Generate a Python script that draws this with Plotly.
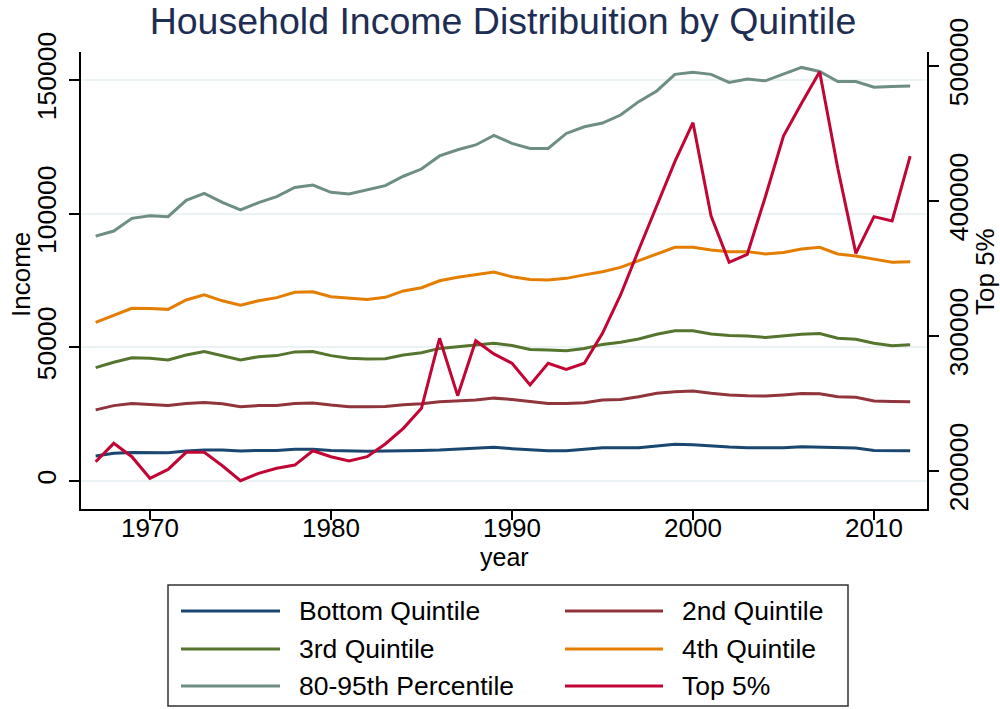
import plotly.graph_objects as go

years = list(range(1967, 2013))

bottom_q = [9350, 10350, 10700, 10600, 10600, 11200, 11600, 11600, 11200, 11450,
            11450, 11850, 11850, 11450, 11200, 11100, 11200, 11450, 11450, 11600,
            11850, 12100, 12600, 12100, 11600, 11350, 11350, 11850, 12470, 12470,
            12470, 13100, 13700, 13600, 13100, 12700, 12470, 12470, 12470, 12850,
            12700, 12470, 12350, 11450, 11350, 11350]
second_q = [26600, 28200, 29000, 28700, 28200, 29000, 29400, 28900, 27800, 28200,
            28200, 29000, 29200, 28400, 27800, 27800, 27900, 28500, 28900, 29600,
            29900, 30300, 31000, 30500, 29700, 29000, 29000, 29300, 30300, 30500,
            31500, 32800, 33400, 33700, 32800, 32200, 31900, 31800, 32200, 32700,
            32600, 31500, 31300, 29900, 29700, 29600]
third_q = [42400, 44400, 46100, 45900, 45300, 47100, 48400, 46800, 45300, 46500,
           46900, 48300, 48400, 46900, 45900, 45600, 45700, 47100, 48000, 49600,
           50200, 50700, 51500, 50700, 49200, 49000, 48700, 49600, 51100, 51900,
           53100, 54900, 56200, 56200, 55000, 54400, 54200, 53700, 54400, 54900,
           55200, 53400, 53000, 51500, 50600, 51000]
fourth_q = [59350, 62100, 64600, 64500, 64200, 67700, 69600, 67400, 65800, 67400,
            68600, 70600, 70800, 68900, 68300, 67900, 68700, 71100, 72300, 74900,
            76200, 77100, 78200, 76400, 75400, 75200, 75800, 77100, 78300, 79900,
            82400, 84900, 87400, 87400, 86400, 85800, 85800, 84900, 85500, 86800,
            87400, 84900, 84200, 83000, 81800, 82000]
pct_80_95 = [91600, 93500, 98250, 99250, 98870, 105000, 107600, 104200, 101400, 104100,
             106400, 109800, 110700, 108000, 107400, 109000, 110500, 114000, 116700, 121600,
             123900, 125700, 129300, 126300, 124400, 124400, 130000, 132500, 133900, 136900,
             141900, 145900, 152100, 152900, 152100, 149100, 150400, 149700, 152100, 154700,
             153200, 149400, 149400, 147300, 147600, 147800]
top_5 = [206900, 220500, 210600, 194600, 201200, 213800, 213800, 203900, 192800, 198300,
         202000, 204400, 215000, 210600, 207400, 210600, 220000, 231600, 246400, 298300,
         255800, 296500, 286700, 279800, 263700, 279800, 275300, 279800, 302000, 330400,
         363700, 396300, 429100, 458000, 388900, 354600, 360500, 403200, 448100, 472400,
         495800, 424200, 361200, 388400, 385200, 433300]

names = ['Bottom Quintile', '2nd Quintile', '3rd Quintile', '4th Quintile',
         '80-95th Percentile', 'Top 5%']
colors = ['#1a476f', '#90353b', '#55752f', '#e37e00', '#6e8e84', '#c10534']
series = [bottom_q, second_q, third_q, fourth_q, pct_80_95, top_5]

FONT = 'Liberation Sans, Arial, Helvetica, sans-serif'
W, H = 1000, 709
# plot area in pixels
L, R, T, B = 81, 927, 52, 509


def px(x, y):
    # pixel -> paper coords
    return (x - L) / (R - L), (B - y) / (B - T)


fig = go.Figure()
for i in range(6):
    fig.add_trace(go.Scatter(
        x=years, y=series[i], name=names[i], mode='lines',
        line=dict(color=colors[i], width=3),
        yaxis='y2' if i == 5 else 'y',
        showlegend=False
    ))

shapes = []
annotations = []

# legend box, drawn by hand so the sample lines are long like the original
bx0, by0 = px(168, 585)
bx1, by1 = px(848, 706)
shapes.append(dict(type='rect', xref='paper', yref='paper', x0=bx0, y0=by0,
                   x1=bx1, y1=by1, line=dict(color='#333333', width=1.5),
                   fillcolor='white', layer='above'))
rows = [611, 649, 686]
cols = [(181, 280, 297), (565, 663, 680)]
for i in range(6):
    r = rows[i // 2]
    c = cols[i % 2]
    lx0, ly = px(c[0], r)
    lx1, _ = px(c[1], r)
    tx, _ = px(c[2], r)
    shapes.append(dict(type='line', xref='paper', yref='paper', x0=lx0, x1=lx1,
                       y0=ly, y1=ly, line=dict(color=colors[i], width=3)))
    annotations.append(dict(text=names[i], xref='paper', yref='paper', x=tx, y=ly,
                            xanchor='left', yanchor='middle', showarrow=False,
                            font=dict(size=26.5, color='black', family=FONT)))

# axis titles
ax, ay = px(21, 274)
annotations.append(dict(text='Income', xref='paper', yref='paper', x=ax, y=ay,
                        textangle=-90, showarrow=False, xanchor='center', yanchor='middle',
                        font=dict(size=26, color='black', family=FONT)))
ax, ay = px(985, 272)
annotations.append(dict(text='Top 5%', xref='paper', yref='paper', x=ax, y=ay,
                        textangle=-90, showarrow=False, xanchor='center', yanchor='middle',
                        font=dict(size=26, color='black', family=FONT)))
ax, ay = px(504, 557)
annotations.append(dict(text='year', xref='paper', yref='paper', x=ax, y=ay,
                        showarrow=False, xanchor='center', yanchor='middle',
                        font=dict(size=25, color='black', family=FONT)))

fig.update_layout(
    width=W, height=H,
    margin=dict(l=L, r=W - R, t=T, b=H - B),
    paper_bgcolor='white', plot_bgcolor='white',
    font=dict(family=FONT, size=26, color='black'),
    title=dict(text='Household Income Distribuition by Quintile',
               x=0.503, xanchor='center', y=0.97, yanchor='middle',
               font=dict(size=37.5, color='#1e2d53', family=FONT)),
    xaxis=dict(range=[1966.19, 2012.93], tickvals=[1970, 1980, 1990, 2000, 2010],
               showline=True, linecolor='black', linewidth=1.5, ticks='outside',
               ticklen=9, tickwidth=1.5, tickcolor='black', showgrid=False,
               ticklabelstandoff=-14,
               zeroline=False, tickfont=dict(size=26)),
    yaxis=dict(range=[-10474, 160472], tickvals=[0, 50000, 100000, 150000],
               ticktext=['0', '50000', '100000', '150000'],
               showline=True, linecolor='black', linewidth=1.5, ticks='outside',
               ticklen=10, tickwidth=1.5, tickcolor='black', tickangle=-90,
               ticklabelstandoff=3,
               showgrid=True, gridcolor='#eaf2f3', gridwidth=2,
               zeroline=False, tickfont=dict(size=26.5)),
    yaxis2=dict(range=[171852, 510370], tickvals=[200000, 300000, 400000, 500000],
                ticktext=['200000', '300000', '400000', '500000'],
                overlaying='y', side='right',
                showline=True, linecolor='black', linewidth=1.5, ticks='outside',
                ticklen=10, tickwidth=1.5, tickcolor='black', tickangle=-90,
                ticklabelstandoff=-3,
                showgrid=False, zeroline=False, tickfont=dict(size=26.5)),
    shapes=shapes,
    annotations=annotations,
)

# page body has an 8px default margin; drop it so the chart sits at (0, 0)
fig.write_html('out.html', config={'displayModeBar': False},
               post_script="document.body.style.margin='0';")
